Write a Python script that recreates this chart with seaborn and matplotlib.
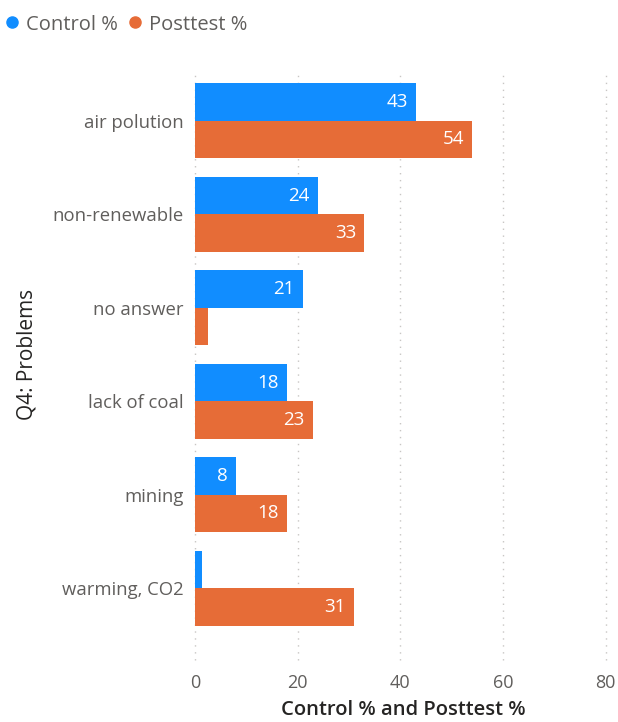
import numpy as np
import pandas as pd
import matplotlib
matplotlib.use('Agg')
import matplotlib.pyplot as plt
import seaborn as sns
from matplotlib.lines import Line2D

problems = ['air polution', 'non-renewable', 'no answer', 'lack of coal', 'mining', 'warming, CO2']
control_pct = [43, 24, 21, 18, 8, 1.3]
posttest_pct = [54, 33, 2.5, 23, 18, 31]

df = pd.DataFrame({'Problem': problems * 2,
                   'Value': control_pct + posttest_pct,
                   'Series': ['Control %'] * 6 + ['Posttest %'] * 6})

blue = '#118DFF'
orange = '#E66C37'

sns.set_style('white')
plt.rcParams['font.family'] = ['Open Sans', 'DejaVu Sans']

fig = plt.figure(figsize=(6.18, 7.22), dpi=100)
ax = fig.add_axes([0.3155, 0.1205, 0.673, 0.777])

sns.barplot(data=df, y='Problem', x='Value', hue='Series', order=problems,
            palette=[blue, orange], width=0.8, saturation=1, legend=False,
            linewidth=0, ax=ax)

# value labels inside bar ends, skip tiny bars
for cont in ax.containers:
    for b in cont:
        w = b.get_width()
        if w >= 5:
            ax.text(w - 1.6, b.get_y() + b.get_height() / 2, '%d' % round(w),
                    ha='right', va='center', color='white', fontsize=13.5)

ax.set_xlim(0, 81)
ax.set_xticks([0, 20, 40, 60, 80])
for x in [0, 20, 40, 60, 80]:
    ax.axvline(x, color='#C8C6C4', linestyle=(0, (1, 4)), linewidth=1,
               zorder=0, ymin=-0.045, clip_on=False)
for s in ax.spines.values():
    s.set_visible(False)
ax.tick_params(axis='x', colors='#605E5C', labelsize=13, length=0, pad=28)
ax.tick_params(axis='y', colors='#605E5C', labelsize=13.3, length=0, pad=8)

ax.set_xlabel('Control % and Posttest %', fontsize=14.5, color='#252423',
              fontweight='semibold', labelpad=6)
ax.set_ylabel('Q4: Problems', fontsize=15, color='#252423', labelpad=11)

handles = [Line2D([], [], marker='o', linestyle='', color=blue, markersize=8),
           Line2D([], [], marker='o', linestyle='', color=orange, markersize=8)]
fig.legend(handles, ['Control %', 'Posttest %'], loc='upper left',
           bbox_to_anchor=(-0.035, 1.005), ncol=2, frameon=False, fontsize=14.5,
           handletextpad=-0.05, columnspacing=0.1, handlelength=1.5,
           labelcolor='#605E5C')

fig.savefig('out.png', dpi=100)
